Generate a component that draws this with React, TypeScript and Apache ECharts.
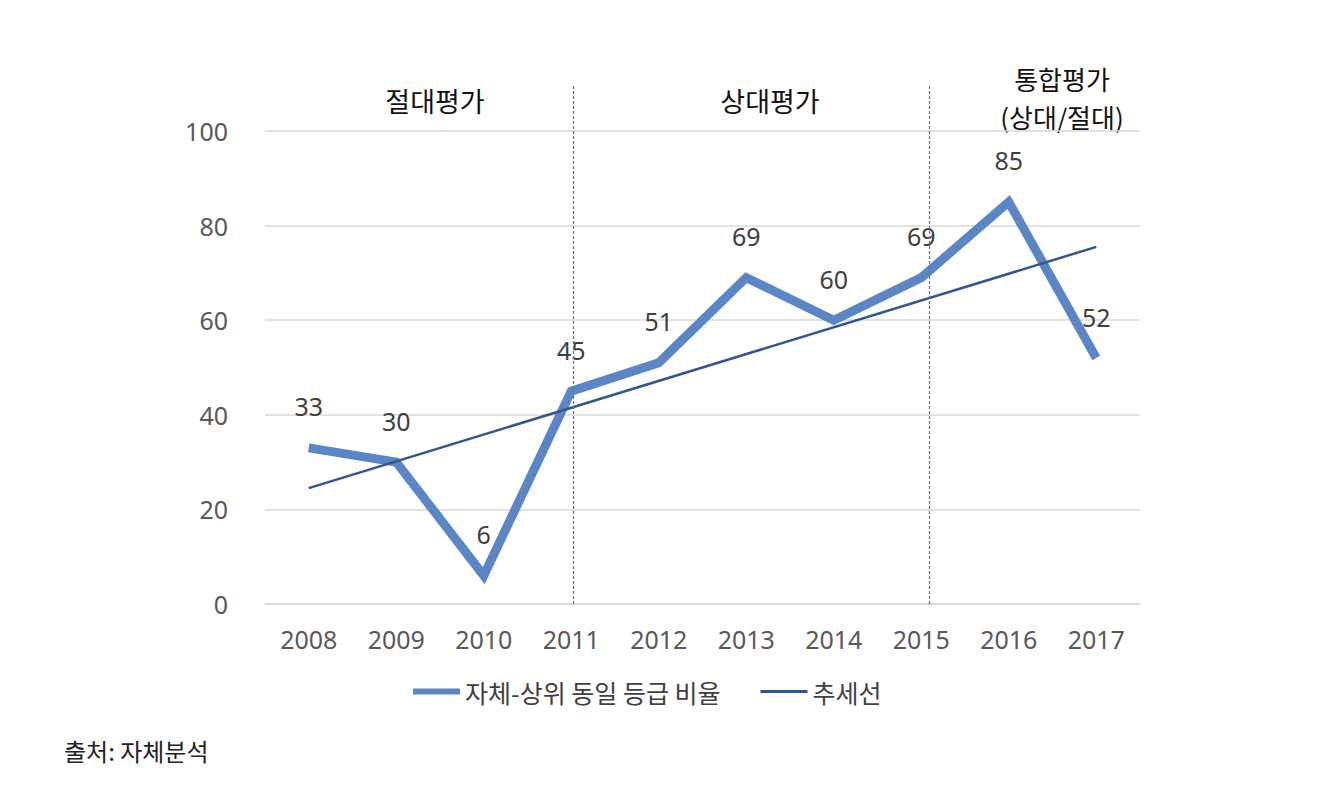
import React, { useEffect, useRef } from "react";
import * as echarts from "echarts";

const years = ["2008", "2009", "2010", "2011", "2012", "2013", "2014", "2015", "2016", "2017"];
const ratio = [33, 30, 6, 45, 51, 69, 60, 69, 85, 52];
const trendStart = 24.5;
const trendEnd = 75.5;
const dividerPositions = [3.02, 7.09];
const sectionTitles = ["절대평가", "상대평가", "통합평가", "(상대/절대)"];
const seriesNames = ["자체-상위 동일 등급 비율", "추세선"];
const sourceText = "출처: 자체분석";

const FONT = "'Noto Sans CJK KR', 'Noto Sans', sans-serif";
const NUMFONT = "'Noto Sans', 'Noto Sans CJK KR', sans-serif";
const MAIN = "#5B86C5";
const TREND = "#2F5597";

export default function App() {
  const ref = useRef<HTMLDivElement>(null);
  useEffect(() => {
    const chart = echarts.init(ref.current!, null, { renderer: "svg" });
    const titleStyle = (text: string, size: number) => ({
      text,
      font: `${size}px ${FONT}`,
      fill: "#111",
      align: "center",
      verticalAlign: "middle",
    });
    chart.setOption({
      animation: false,
      backgroundColor: "#ffffff",
      textStyle: { fontFamily: FONT },
      grid: { left: 265, right: 200, top: 131, bottom: 181 },
      legend: {
        top: 674,
        left: 408,
        itemWidth: 47,
        itemHeight: 12,
        itemGap: 40,
        symbolKeepAspect: true,
        textStyle: { fontSize: 25, color: "#404040", fontFamily: FONT },
        data: [
          { name: seriesNames[0], icon: "path://M0,0H47V6H0Z", itemStyle: { color: MAIN, opacity: 1 } },
          { name: seriesNames[1], icon: "path://M0,0H47V3H0Z", itemStyle: { color: TREND, opacity: 1 } },
        ],
      },
      xAxis: [
        {
          type: "category",
          data: years,
          boundaryGap: true,
          axisLine: { show: true, lineStyle: { color: "#d9d9d9", width: 1.5 } },
          axisTick: { show: false },
          axisLabel: { fontSize: 25, color: "#595959", margin: 22, fontFamily: NUMFONT },
        },
        { type: "value", min: -0.5, max: 9.5, show: false },
      ],
      yAxis: {
        type: "value",
        min: 0,
        max: 100,
        interval: 20,
        axisLine: { show: false },
        axisTick: { show: false },
        axisLabel: { fontSize: 25, color: "#595959", margin: 37, fontFamily: NUMFONT },
        splitLine: { lineStyle: { color: "#d9d9d9", width: 1.5 } },
      },
      series: [
        {
          name: seriesNames[0],
          type: "line",
          data: ratio,
          symbol: "circle",
          symbolSize: 2,
          showSymbol: true,
          lineStyle: { color: MAIN, width: 9, join: "miter" },
          itemStyle: { color: "rgba(0,0,0,0)", borderWidth: 0 },
          label: {
            show: true,
            position: "top",
            distance: 28,
            fontSize: 25,
            color: "#404040",
            fontFamily: NUMFONT,
          },
          z: 3,
        },
        {
          name: seriesNames[1],
          type: "line",
          data: [[years[0], trendStart], [years[years.length - 1], trendEnd]],
          symbol: "none",
          lineStyle: { color: TREND, width: 2.5 },
          itemStyle: { color: TREND },
          z: 4,
        },
        {
          name: "divider",
          type: "line",
          xAxisIndex: 1,
          data: [],
          symbol: "none",
          markLine: {
            silent: true,
            symbol: "none",
            label: { show: false },
            lineStyle: { color: "#4A76B8", type: [3, 2], width: 1.2 },
            data: dividerPositions.map((p) => [
              { coord: [p, 0] },
              { coord: [p, 100], y: 85 },
            ]),
          },
        },
      ],
      graphic: [
        { type: "text", x: 435, y: 100, style: titleStyle(sectionTitles[0], 27) },
        { type: "text", x: 770, y: 100, style: titleStyle(sectionTitles[1], 27) },
        { type: "text", x: 1062, y: 78, style: titleStyle(sectionTitles[2], 26) },
        { type: "text", x: 1062, y: 116, style: titleStyle(sectionTitles[3], 26) },
        {
          type: "text",
          x: 64,
          y: 750,
          style: { text: sourceText, font: `24px ${FONT}`, fill: "#222", align: "left", verticalAlign: "middle" },
        },
      ],
    });
    return () => chart.dispose();
  }, []);
  return (
    <div
      ref={ref}
      style={{ position: "fixed", left: 0, top: 0, width: 1340, height: 785 }}
    />
  );
}
